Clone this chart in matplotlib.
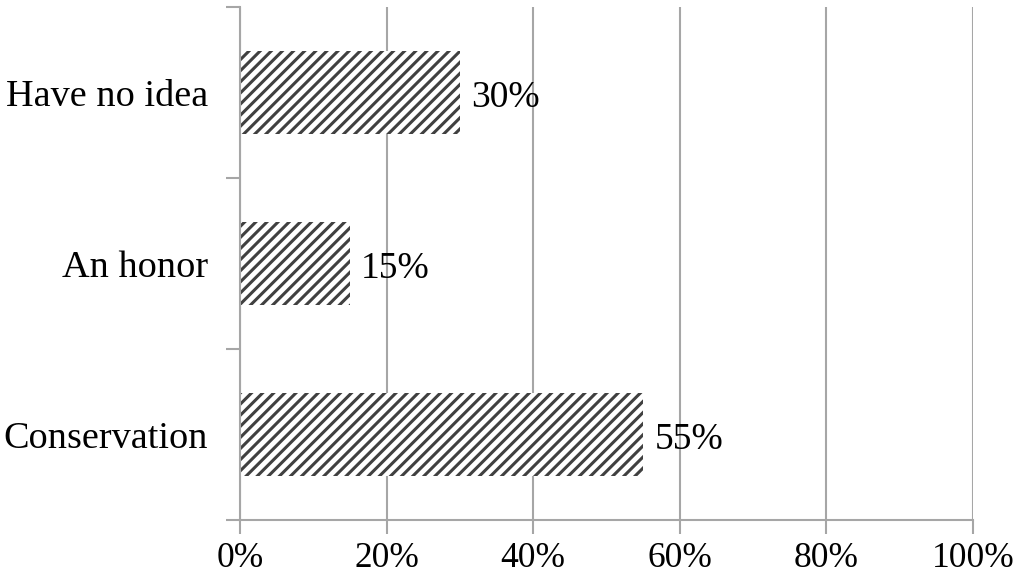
import numpy as np
import matplotlib
matplotlib.use("Agg")
from matplotlib import pyplot as plt
from matplotlib.ticker import FixedLocator

categories = ["Conservation", "An honor", "Have no idea"]
values = [55, 15, 30]
xticks = [0, 20, 40, 60, 80, 100]

plt.rcParams['font.family'] = ['Liberation Serif', 'DejaVu Serif']
plt.rcParams['hatch.linewidth'] = 2.2

grey = '#a6a6a6'
fig = plt.figure(figsize=(10.24, 5.82), dpi=100)
ax = fig.add_axes([240/1024, 62/582, 733/1024, 513/582])

y = np.arange(len(categories))
ax.barh(y, values, height=0.49, color='white', edgecolor='#404040',
        linewidth=0, hatch='///')

for yi, v in zip(y, values):
    ax.annotate(f"{v}%", (v, yi), xytext=(8, -4), textcoords='offset points',
                va='center', ha='left', fontsize=27)

ax.set_xlim(0, 100)
ax.set_ylim(-0.5, 2.5)
ax.set_xticks(xticks)
ax.set_xticklabels([f"{t}%" for t in xticks], fontsize=25.5)
ax.set_yticks(y)
ax.set_yticklabels(categories, fontsize=27.5)
ax.yaxis.set_minor_locator(FixedLocator([-0.5, 0.5, 1.5, 2.5]))
ax.tick_params(axis='y', which='major', length=0, pad=23)
ax.tick_params(axis='y', which='minor', length=10, color=grey, width=1.5)
ax.tick_params(axis='x', length=10, color=grey, width=1.5, pad=6)

ax.grid(axis='x', color=grey, linewidth=1.5)
ax.set_axisbelow(True)
for side in ['top', 'right']:
    ax.spines[side].set_visible(False)
for side in ['left', 'bottom']:
    ax.spines[side].set_color(grey)
    ax.spines[side].set_linewidth(1.5)

fig.savefig("out.png", dpi=100)
